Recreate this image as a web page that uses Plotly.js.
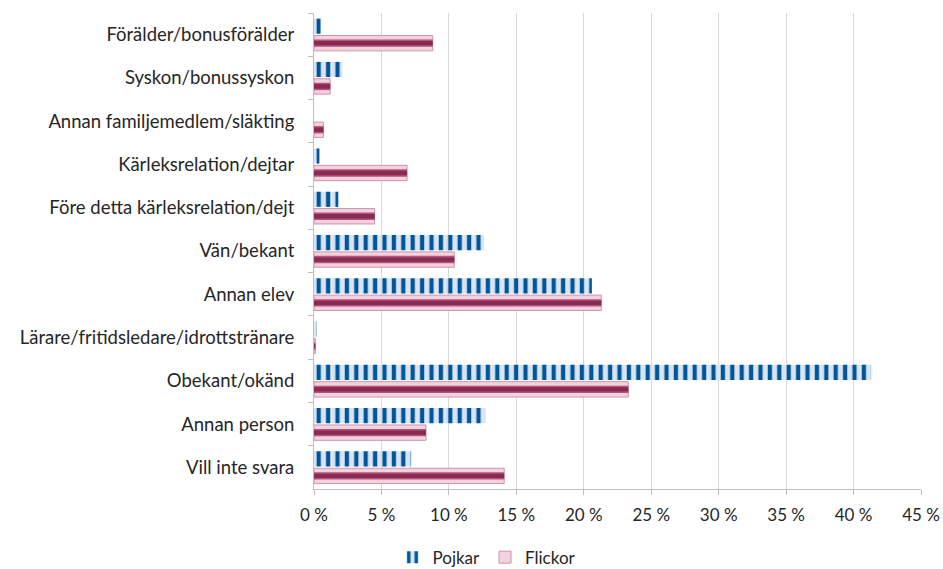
<!DOCTYPE html>
<html><head><meta charset="utf-8">
<script src="https://cdn.plot.ly/plotly-3.0.1.min.js"></script>
<style>html,body{margin:0;padding:0;background:#fff}#chart{width:943px;height:569px}</style>
</head><body><div id="chart"></div>
<script>
const categories = [
  "Förälder/bonusförälder",
  "Syskon/bonussyskon",
  "Annan familjemedlem/släkting",
  "Kärleksrelation/dejtar",
  "Före detta kärleksrelation/dejt",
  "Vän/bekant",
  "Annan elev",
  "Lärare/fritidsledare/idrottstränare",
  "Obekant/okänd",
  "Annan person",
  "Vill inte svara"
];
const pojkar  = [0.5, 2.1, 0, 0.4, 1.8, 12.6, 20.6, 0.2, 41.3, 12.7, 7.2];
const flickor = [8.8, 1.2, 0.7, 6.9, 4.5, 10.4, 21.3, 0.1, 23.3, 8.3, 14.1];
const xTicks = [0,5,10,15,20,25,30,35,40,45];

const fam = "Lato, 'Open Sans', sans-serif";
const yFont = {family: fam, size: 18.5, color: "#262626"};
const xFont = {family: fam, size: 17, color: "#262626"};

const data = [
  {type:"bar", orientation:"h", name:"Pojkar", y:categories, x:pojkar,
   offset:-0.37, width:0.35,
   marker:{color:"#dbe5f1", line:{width:0},
     pattern:{shape:"|", size:9.4, solidity:0.45, fgcolor:"#00569b", bgcolor:"#dbe5f1", fgopacity:1, fillmode:"replace"}}},
  {type:"bar", orientation:"h", name:"Flickor", y:categories, x:flickor,
   offset:0.02, width:0.355,
   marker:{color:"#f2d2de", line:{width:1, color:"#cf93ac"}}},
  {type:"bar", orientation:"h", name:"Flickor", y:categories, x:flickor,
   offset:0.1125, width:0.17, showlegend:false,
   marker:{color:"#b0557a", line:{width:0}}},
  {type:"bar", orientation:"h", name:"Flickor", y:categories, x:flickor,
   offset:0.1475, width:0.1, showlegend:false,
   marker:{color:"#8a2a52", line:{width:0}}}
];

const layout = {
  width:943, height:569,
  margin:{l:314, r:22, t:13, b:80},
  paper_bgcolor:"#fff", plot_bgcolor:"#fff",
  font: xFont,
  barmode:"overlay",
  showlegend:true,
  legend:{orientation:"h", x:0.285, xanchor:"center", xref:"paper",
          y:0.02, yanchor:"middle", yref:"container", font:xFont, traceorder:"normal",
          itemwidth:30},
  xaxis:{range:[0,45], tickvals:xTicks, ticktext:xTicks.map(v=>v+" %"),
    showgrid:true, gridcolor:"#d9d9d9", gridwidth:1,
    showline:true, linecolor:"#bfbfbf", linewidth:1,
    ticks:"outside", ticklen:5, tickcolor:"#bfbfbf",
    ticklabelstandoff:6,
    zeroline:false, tickfont:xFont, fixedrange:true},
  yaxis:{type:"category", autorange:"reversed",
    showline:true, linecolor:"#bfbfbf", linewidth:1,
    ticks:"outside", tickson:"boundaries", ticklen:5, tickcolor:"#bfbfbf",
    showgrid:false, tickfont:yFont, ticklabelstandoff:15, fixedrange:true}
};

Plotly.newPlot("chart", data, layout, {displayModeBar:false, staticPlot:true});
</script></body></html>
